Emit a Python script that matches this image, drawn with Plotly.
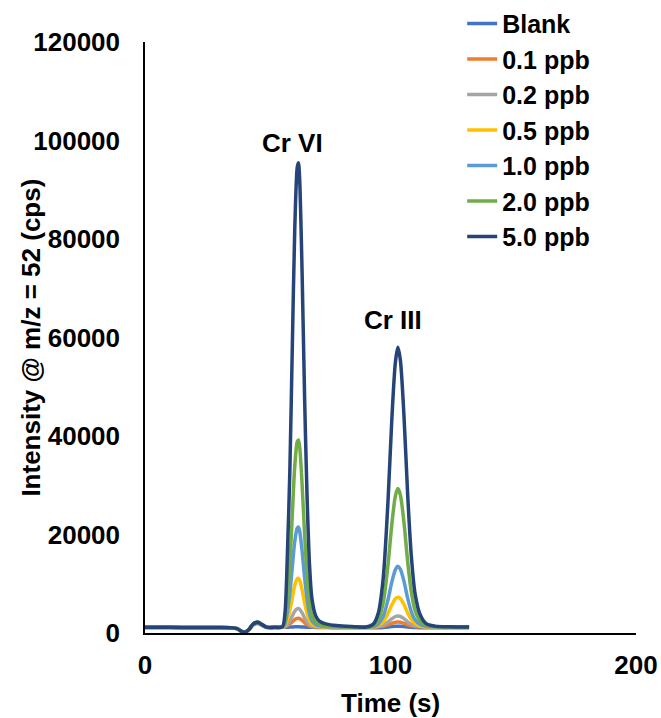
import plotly.graph_objects as go

TIME = [0, 10, 20, 30, 35, 37.5, 39, 40.7, 42.5, 44, 46, 47.5, 49.5, 53,
        56, 57, 58, 59, 60, 61, 62, 62.5, 63, 64, 65, 66, 67, 68, 69.5, 71, 74, 78, 84, 90,
        93, 95, 97, 99, 100.5, 102, 103, 104, 105.5, 107, 108.5, 110, 112, 114.5, 118, 124, 132]

PRE_BLANK = [1050, 1050, 1050, 1050, 1000, 850, 400, 120, 700, 1600, 1950, 1600, 1100, 1050]
PRE = [1150, 1150, 1120, 1120, 1080, 900, 420, 150, 800, 1800, 2200, 1750, 1200, 1150]

BLANK = PRE_BLANK + [1150, 1160, 1180, 1200, 1230, 1250, 1260, 1260, 1250, 1230, 1200, 1180, 1160, 1150,
                     1140, 1120, 1100, 1080, 1060, 1050,
                     1050, 1080, 1130, 1220, 1310, 1370, 1380, 1370, 1320, 1240, 1160, 1100, 1070, 1050,
                     1050, 1050, 1050]
PPB_01 = PRE + [1200, 1250, 1480, 1800, 2280, 2740, 2970, 3000, 2930, 2560, 2090, 1710, 1440, 1310,
                1240, 1220, 1210, 1200, 1200, 1200,
                1210, 1250, 1380, 1660, 1950, 2170, 2220, 2180, 1970, 1680, 1460, 1320, 1250, 1210,
                1200, 1200, 1200]
PPB_02 = PRE + [1200, 1310, 1790, 2470, 3470, 4430, 4930, 4970, 4830, 4070, 3070, 2270, 1710, 1430,
                1290, 1250, 1220, 1210, 1200, 1200,
                1220, 1310, 1590, 2230, 2870, 3350, 3470, 3370, 2910, 2270, 1770, 1470, 1300, 1230,
                1210, 1200, 1200]
PPB_05 = PRE + [1210, 1490, 2750, 4540, 7160, 9680, 11000, 11100, 10700, 8740, 6110, 4010, 2540, 1810,
                1440, 1330, 1260, 1230, 1210, 1200,
                1260, 1500, 2250, 3960, 5670, 6960, 7280, 7010, 5780, 4070, 2730, 1930, 1480, 1270,
                1220, 1200, 1200]
PPB_10 = PRE + [1220, 1800, 4380, 8040, 13400, 18600, 21300, 21500, 20700, 16600, 11300, 6960, 3950, 2450,
                1690, 1460, 1330, 1260, 1220, 1200,
                1330, 1810, 3330, 6800, 10270, 12870, 13530, 12980, 10490, 7020, 4300, 2680, 1760, 1350,
                1240, 1210, 1200]
PPB_20 = PRE + [1240, 2330, 7160, 14000, 24100, 33800, 38800, 39200, 37800, 30100, 20100, 12000, 6400, 3500,
                2130, 1680, 1440, 1320, 1240, 1200,
                1500, 2590, 6050, 13970, 21890, 27830, 29320, 28080, 22390, 14470, 8280, 4570, 2490, 1550,
                1300, 1220, 1200]
PPB_50 = PRE + [1300, 4000, 16000, 33000, 58000, 82000, 94500, 95500, 92000, 73000, 48000, 28000, 14000, 7000,
                3500, 2400, 1800, 1500, 1300, 1200,
                1800, 4000, 11000, 27000, 43000, 55000, 58000, 55500, 44000, 28000, 15500, 8000, 3800, 1900,
                1400, 1250, 1200]

SERIES = [
    ("Blank", BLANK, "#4472C4"),
    ("0.1 ppb", PPB_01, "#ED7D31"),
    ("0.2 ppb", PPB_02, "#A5A5A5"),
    ("0.5 ppb", PPB_05, "#FFC000"),
    ("1.0 ppb", PPB_10, "#5B9BD5"),
    ("2.0 ppb", PPB_20, "#70AD47"),
    ("5.0 ppb", PPB_50, "#264478"),
]

PEAK_LABELS = [("Cr VI", 60, 99500), ("Cr III", 101, 63500)]

FAMILY = "Liberation Sans, Arial, sans-serif"
FONT = dict(family=FAMILY, size=26, color="black", weight="bold")
LEG_FONT = dict(family=FAMILY, size=25, color="black", weight="bold")

fig = go.Figure()
for name, vals, color in SERIES:
    fig.add_trace(go.Scatter(x=TIME, y=vals, name=name, mode="lines",
                             line=dict(color=color, width=3.5, shape="spline", smoothing=0.8)))

for txt, x, y in PEAK_LABELS:
    fig.add_annotation(x=x, y=y, text=txt, showarrow=False, font=FONT,
                       xanchor="center", yanchor="middle")

fig.add_annotation(xref="paper", yref="paper", x=-0.234, y=0.5, text="Intensity @ m/z = 52 (cps)",
                   textangle=-90, showarrow=False, font=FONT, xanchor="center", yanchor="middle")
fig.add_annotation(xref="paper", yref="paper", x=0.5, y=-0.118, text="Time (s)",
                   showarrow=False, font=FONT, xanchor="center", yanchor="middle")

fig.update_layout(
    width=661, height=718,
    margin=dict(l=145, r=25, t=42, b=85, autoexpand=False),
    paper_bgcolor="white", plot_bgcolor="white",
    font=FONT,
    showlegend=True,
    legend=dict(x=0.646, y=1.07, xanchor="left", yanchor="top", bgcolor="rgba(0,0,0,0)",
                font=LEG_FONT, itemwidth=30, tracegroupgap=0),
    xaxis=dict(range=[0, 200], tickvals=[0, 100, 200], showgrid=False, zeroline=False,
               showline=True, linecolor="black", linewidth=2, ticks="", ticklabelstandoff=8,
               tickfont=FONT, automargin=False),
    yaxis=dict(range=[0, 120000], tickvals=[0, 20000, 40000, 60000, 80000, 100000, 120000],
               tickformat="d", showgrid=False, zeroline=False,
               showline=True, linecolor="black", linewidth=1.5, ticks="", ticklabelstandoff=18,
               tickfont=FONT, automargin=False),
)

fig.write_html("out.html", config={"displayModeBar": False},
               post_script="document.body.style.margin='0';document.body.style.overflow='hidden';")
